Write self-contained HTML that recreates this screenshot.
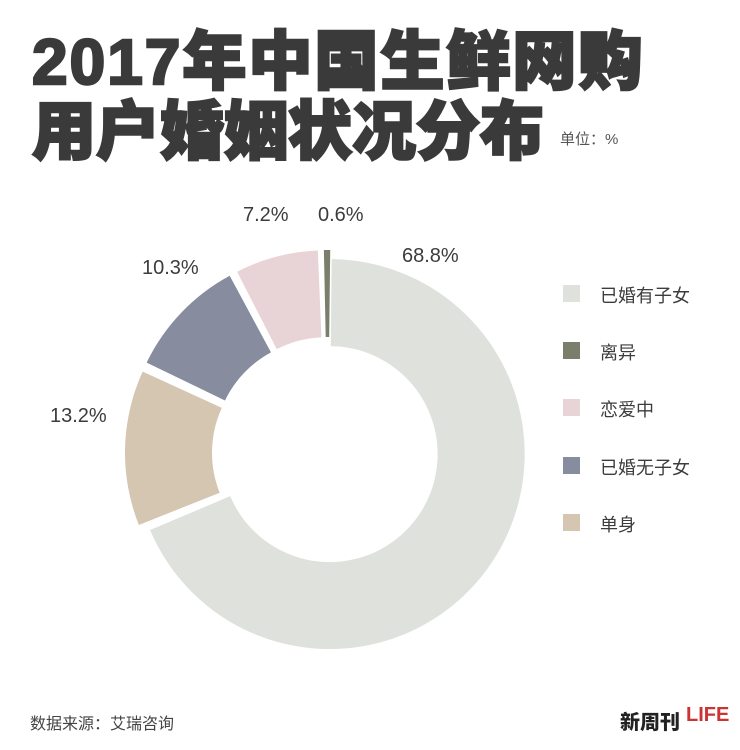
<!DOCTYPE html>
<html><head><meta charset="utf-8"><style>
body{margin:0;width:740px;height:750px;background:#fff;overflow:hidden;position:relative;font-family:"Liberation Sans","Noto Sans CJK SC",sans-serif;}
.t{position:absolute;left:32px;font-family:"Liberation Sans","Noto Sans CJK SC",sans-serif;font-weight:900;font-size:64px;color:#3a3a3a;white-space:nowrap;-webkit-text-stroke:2.5px #3a3a3a;line-height:1;}
.lab{position:absolute;font-size:20px;color:#3c3c3c;}
.lg{position:absolute;left:563px;width:17px;height:17px;}
.lt{position:absolute;left:600px;font-size:18px;color:#3c3c3c;}
</style></head><body>
<div class="t" style="top:30px;letter-spacing:2px">2017年中国生鲜网购</div>
<div class="t" style="top:100px;letter-spacing:0px">用户婚姻状况分布</div>
<div style="position:absolute;left:560px;top:128px;font-size:15px;color:#555">单位：%</div>
<svg width="740" height="750" style="position:absolute;left:0;top:0">
<g id="d"></g>
</svg>
<div class="lab" style="left:402px;top:245px">68.8%</div>
<div class="lab" style="left:318px;top:204px">0.6%</div>
<div class="lab" style="left:243px;top:204px">7.2%</div>
<div class="lab" style="left:142px;top:257px">10.3%</div>
<div class="lab" style="left:50px;top:405px">13.2%</div>
<div class="lg" style="top:285px;background:#dfe1dc"></div><div class="lt" style="top:282px">已婚有子女</div>
<div class="lg" style="top:342px;background:#7a7f6c"></div><div class="lt" style="top:339px">离异</div>
<div class="lg" style="top:399px;background:#e8d3d6"></div><div class="lt" style="top:396px">恋爱中</div>
<div class="lg" style="top:457px;background:#878c9e"></div><div class="lt" style="top:454px">已婚无子女</div>
<div class="lg" style="top:514px;background:#d5c6b2"></div><div class="lt" style="top:511px">单身</div>
<div style="position:absolute;left:30px;top:710px;font-size:16px;color:#444">数据来源：艾瑞咨询</div>
<div style="position:absolute;left:620px;top:706px;font-size:20px;font-weight:900;color:#222;font-family:'Noto Sans CJK SC',sans-serif">新周刊</div>
<div style="position:absolute;left:686px;top:704px;font-size:20px;font-weight:bold;color:#c33">LIFE</div>
<script>
var cx=328,cy=453,R=195,r=108;
var s=[[68.8,'#dfe1dc',2],[13.2,'#d5c6b2',8],[10.3,'#878c9e',8],[7.2,'#e8d3d6',8],[0.6,'#7a7f6c',8]];
var a=0.6,h='';
function p(ang,rad,ox,oy){var t=ang*Math.PI/180;return [(cx+ox+rad*Math.sin(t)).toFixed(2),(cy+oy-rad*Math.cos(t)).toFixed(2)];}
s.forEach(function(x){var span=x[0]*3.6-(x[0]<1?0.3:1.2);var a0=a,a1=a+span;var m=(a0+a1)/2*Math.PI/180;
var ox=x[2]*Math.sin(m),oy=-x[2]*Math.cos(m);var lg=span>180?1:0;
var A=p(a0,R,ox,oy),B=p(a1,R,ox,oy),C=p(a1,r,ox,oy),D=p(a0,r,ox,oy);
h+='<path fill="'+x[1]+'" d="M'+A+' A'+R+' '+R+' 0 '+lg+' 1 '+B+' L'+C+' A'+r+' '+r+' 0 '+lg+' 0 '+D+'Z"/>';
a+=x[0]*3.6;});
document.getElementById('d').innerHTML=h;
</script>
</body></html>
